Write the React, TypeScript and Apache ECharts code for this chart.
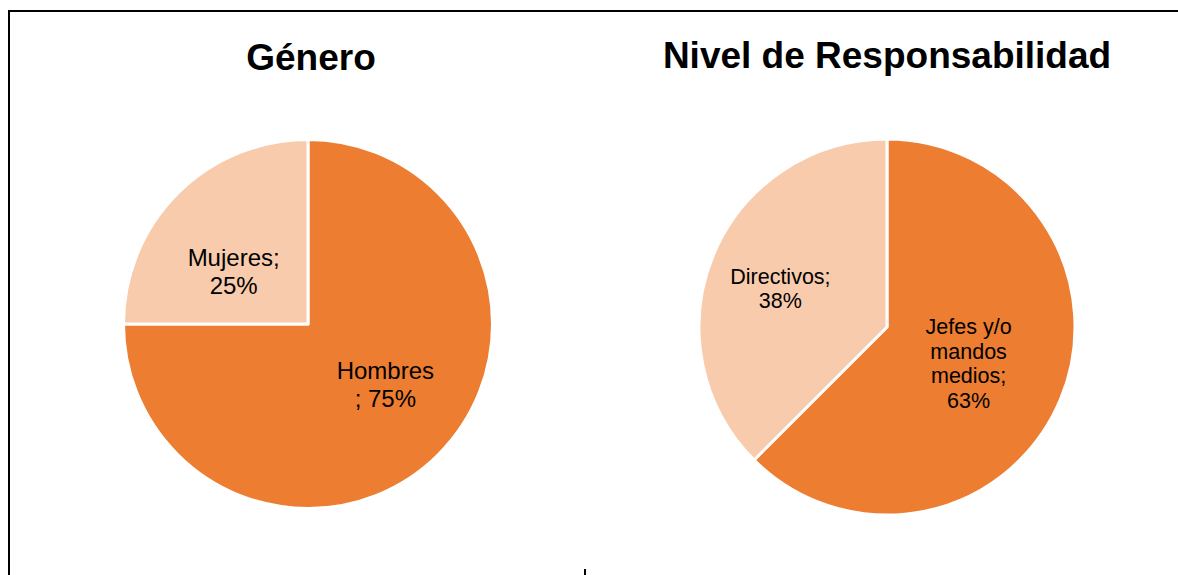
import React, { useEffect, useRef } from "react";
import * as echarts from "echarts";

// ---- Data ----
const generoTitle = "Género";
const generoCategories = ["Hombres", "Mujeres"];
const generoValues = [75, 25];
const generoLabelTemplates = ["Hombres\n; {p}%", "Mujeres;\n{p}%"];

const nivelTitle = "Nivel de Responsabilidad";
const nivelCategories = ["Jefes y/o mandos medios", "Directivos"];
const nivelValues = [62.5, 37.5];
const nivelLabelTemplates = ["Jefes y/o\nmandos\nmedios;\n{p}%", "Directivos;\n{p}%"];

const sliceColors = ["#ED7D31", "#F8CBAD"];

const FONT = "'Liberation Sans', Arial, Helvetica, sans-serif";

// label nudges (style only)
const generoLabelShift = [
  { dx: 10, dy: -7 },
  { dx: -7, dy: 15 },
];
const nivelLabelShift = [
  { dx: -8, dy: 0 },
  { dx: -17, dy: -1 },
];

function buildData(cats: string[], vals: number[]) {
  return cats.map((c, i) => ({
    name: c,
    value: vals[i],
    itemStyle: { color: sliceColors[i] },
  }));
}

export default function App() {
  const ref = useRef<HTMLDivElement | null>(null);

  useEffect(() => {
    if (!ref.current) return;
    const chart = echarts.init(ref.current, null, { renderer: "svg" });

    const option: any = {
      animation: false,
      backgroundColor: "#ffffff",
      graphic: [
        {
          type: "line",
          shape: { x1: 9, y1: 11, x2: 1178, y2: 11 },
          style: { stroke: "#000", lineWidth: 2 },
          silent: true,
        },
        {
          type: "line",
          shape: { x1: 9, y1: 10, x2: 9, y2: 575 },
          style: { stroke: "#000", lineWidth: 2 },
          silent: true,
        },
        {
          type: "line",
          shape: { x1: 585, y1: 569, x2: 585, y2: 575 },
          style: { stroke: "#000", lineWidth: 2 },
          silent: true,
        },
        {
          type: "text",
          x: 311,
          y: 57,
          style: {
            text: generoTitle,
            fill: "#000",
            font: `bold 37px ${FONT}`,
            textAlign: "center",
            textVerticalAlign: "middle",
          },
          silent: true,
        },
        {
          type: "text",
          x: 887,
          y: 55,
          style: {
            text: nivelTitle,
            fill: "#000",
            font: `bold 37px ${FONT}`,
            textAlign: "center",
            textVerticalAlign: "middle",
          },
          silent: true,
        },
      ],
      series: [
        {
          type: "pie",
          center: [308, 324],
          radius: 184.5,
          startAngle: 90,
          clockwise: true,
          silent: true,
          emphasis: { disabled: true },
          itemStyle: { borderColor: "#ffffff", borderWidth: 3 },
          label: {
            show: true,
            position: "inside",
            color: "#000",
            fontFamily: FONT,
            fontSize: 24,
            lineHeight: 27.5,
            align: "center",
            formatter: (p: any) =>
              generoLabelTemplates[p.dataIndex].replace("{p}", String(Math.round(p.value))),
          },
          labelLine: { show: false },
          labelLayout: (p: any) => generoLabelShift[p.dataIndex],
          data: buildData(generoCategories, generoValues),
        },
        {
          type: "pie",
          center: [887, 327],
          radius: 188,
          startAngle: 90,
          clockwise: true,
          silent: true,
          emphasis: { disabled: true },
          itemStyle: { borderColor: "#ffffff", borderWidth: 3 },
          label: {
            show: true,
            position: "inside",
            color: "#000",
            fontFamily: FONT,
            fontSize: 21.5,
            lineHeight: 24.5,
            align: "center",
            formatter: (p: any) =>
              nivelLabelTemplates[p.dataIndex].replace("{p}", String(Math.round(p.value))),
          },
          labelLine: { show: false },
          labelLayout: (p: any) => nivelLabelShift[p.dataIndex],
          data: buildData(nivelCategories, nivelValues),
        },
      ],
    };

    chart.setOption(option);
    return () => chart.dispose();
  }, []);

  return (
    <div
      ref={ref}
      style={{ position: "absolute", left: 0, top: 0, width: 1178, height: 575 }}
    />
  );
}
